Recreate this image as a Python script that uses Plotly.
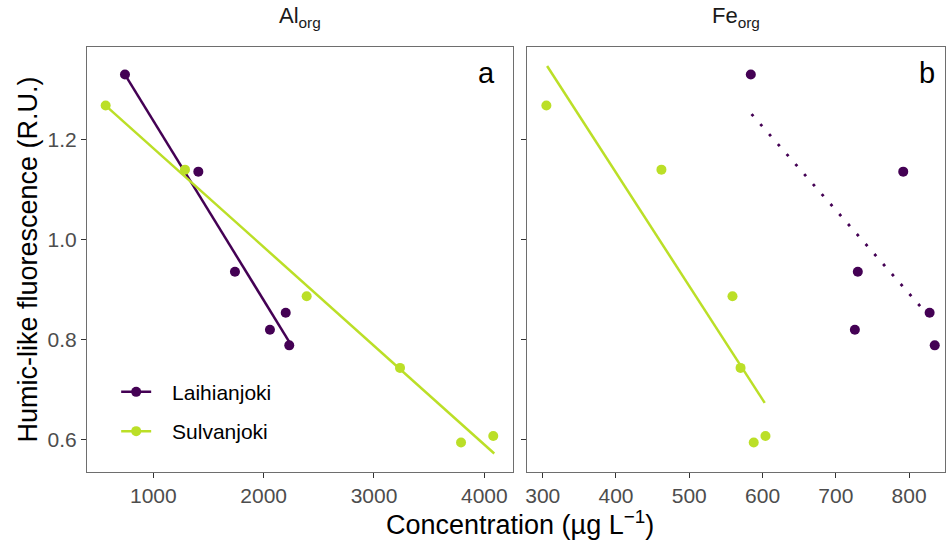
import plotly.graph_objects as go

# ---- data ----
y_laih = [1.330, 1.136, 0.936, 0.820, 0.854, 0.789]
al_laih = [743, 1408, 1740, 2057, 2200, 2232]
fe_laih = [584, 792, 730, 726, 828, 835]

y_sulv = [1.268, 1.140, 0.887, 0.744, 0.595, 0.608]
al_sulv = [568, 1287, 2390, 3236, 3789, 4081]
fe_sulv = [305, 462, 559, 570, 588, 604]

# fitted lines (end points)
fit_al_laih_x = [743, 2232]
fit_al_laih_y = [1.330, 0.796]
fit_al_sulv_x = [568, 4090]
fit_al_sulv_y = [1.268, 0.573]
fit_fe_sulv_x = [306, 603]
fit_fe_sulv_y = [1.347, 0.674]
fit_fe_laih_x = [585, 835]
fit_fe_laih_y = [1.251, 0.834]

y_ticks = [0.6, 0.8, 1.0, 1.2]
y_ticklabels = ["0.6", "0.8", "1.0", "1.2"]
al_ticks = [1000, 2000, 3000, 4000]
fe_ticks = [300, 400, 500, 600, 700, 800]

series_names = ["Laihianjoki", "Sulvanjoki"]

PURPLE = "#440154"
LIME = "#BBDF27"
FONT = "Liberation Sans, Arial, sans-serif"
PAD = "\u00a0\u00a0\u2009"

fig = go.Figure()

# panel a
fig.add_trace(go.Scatter(x=fit_al_laih_x, y=fit_al_laih_y, mode="lines",
                         line=dict(color=PURPLE, width=2.5), showlegend=False,
                         xaxis="x", yaxis="y"))
fig.add_trace(go.Scatter(x=fit_al_sulv_x, y=fit_al_sulv_y, mode="lines",
                         line=dict(color=LIME, width=2.5), showlegend=False,
                         xaxis="x", yaxis="y"))
fig.add_trace(go.Scatter(x=al_laih, y=y_laih, mode="markers",
                         marker=dict(color=PURPLE, size=10), showlegend=False,
                         xaxis="x", yaxis="y"))
fig.add_trace(go.Scatter(x=al_sulv, y=y_sulv, mode="markers",
                         marker=dict(color=LIME, size=10), showlegend=False,
                         xaxis="x", yaxis="y"))

# panel b
fig.add_trace(go.Scatter(x=fit_fe_sulv_x, y=fit_fe_sulv_y, mode="lines",
                         line=dict(color=LIME, width=2.5), showlegend=False,
                         xaxis="x2", yaxis="y2"))
fig.add_trace(go.Scatter(x=fit_fe_laih_x, y=fit_fe_laih_y, mode="lines",
                         line=dict(color=PURPLE, width=2.8, dash="2.8px,10.5px"),
                         showlegend=False, xaxis="x2", yaxis="y2"))
fig.add_trace(go.Scatter(x=fe_laih, y=y_laih, mode="markers",
                         marker=dict(color=PURPLE, size=10), showlegend=False,
                         xaxis="x2", yaxis="y2"))
fig.add_trace(go.Scatter(x=fe_sulv, y=y_sulv, mode="markers",
                         marker=dict(color=LIME, size=10), showlegend=False,
                         xaxis="x2", yaxis="y2"))

# legend entries
for nm, col, grp in zip(series_names, [PURPLE, LIME], ["a", "b"]):
    fig.add_trace(go.Scatter(x=[None], y=[None], mode="lines+markers", name=PAD + nm,
                             line=dict(color=col, width=2.5), marker=dict(color=col, size=10),
                             legendgroup=grp, xaxis="x", yaxis="y"))

axis_common = dict(showgrid=False, zeroline=False, showline=True, mirror=True,
                   linecolor="#6e6e6e", linewidth=1.2, ticks="outside", ticklen=5,
                   tickcolor="#333333", tickwidth=1.2,
                   tickfont=dict(family=FONT, size=21, color="#4d4d4d"))

fig.update_layout(
    width=946, height=540,
    margin=dict(l=87, r=1, t=47, b=68),
    plot_bgcolor="white", paper_bgcolor="white",
    xaxis=dict(domain=[0, 0.4969], range=[399, 4263], tickvals=al_ticks, **axis_common),
    xaxis2=dict(domain=[0.5132, 1], range=[279, 849], tickvals=fe_ticks, anchor="y2", **axis_common),
    yaxis=dict(range=[0.536, 1.385], tickvals=y_ticks, ticktext=y_ticklabels, **axis_common),
    yaxis2=dict(range=[0.536, 1.385], tickvals=y_ticks, showticklabels=False, anchor="x2",
                matches="y", **axis_common),
    legend=dict(x=0.034, y=0.236, xanchor="left", yanchor="top",
                bgcolor="rgba(0,0,0,0)", tracegroupgap=9,
                font=dict(family=FONT, size=21, color="black")),
    annotations=[
        dict(text="Al<sub>org</sub>", xref="x domain", yref="paper", x=0.5, y=1.0,
             yanchor="bottom", yshift=14, showarrow=False, xanchor="center",
             font=dict(family=FONT, size=22, color="#1a1a1a")),
        dict(text="Fe<sub>org</sub>", xref="x2 domain", yref="paper", x=0.5, y=1.0,
             yanchor="bottom", yshift=14, showarrow=False, xanchor="center",
             font=dict(family=FONT, size=22, color="#1a1a1a")),
        dict(text="a", xref="x domain", yref="y domain", x=0.936, y=0.938,
             showarrow=False, xanchor="center", yanchor="middle",
             font=dict(family=FONT, size=29, color="black")),
        dict(text="b", xref="x2 domain", yref="y2 domain", x=0.958, y=0.938,
             showarrow=False, xanchor="center", yanchor="middle",
             font=dict(family=FONT, size=29, color="black")),
        dict(text="Concentration (µg L<sup>−1</sup>)", xref="paper", yref="paper",
             x=(520 - 87) / 858, y=0, yshift=-51, xanchor="center", yanchor="middle",
             showarrow=False, font=dict(family=FONT, size=27, color="black")),
        dict(text="Humic-like fluorescence (R.U.)", xref="paper", yref="paper",
             x=0, xshift=-60, y=0.5, textangle=-90, xanchor="center", yanchor="middle",
             showarrow=False, font=dict(family=FONT, size=27, color="black")),
    ],
)

fig.write_html("out.html")
